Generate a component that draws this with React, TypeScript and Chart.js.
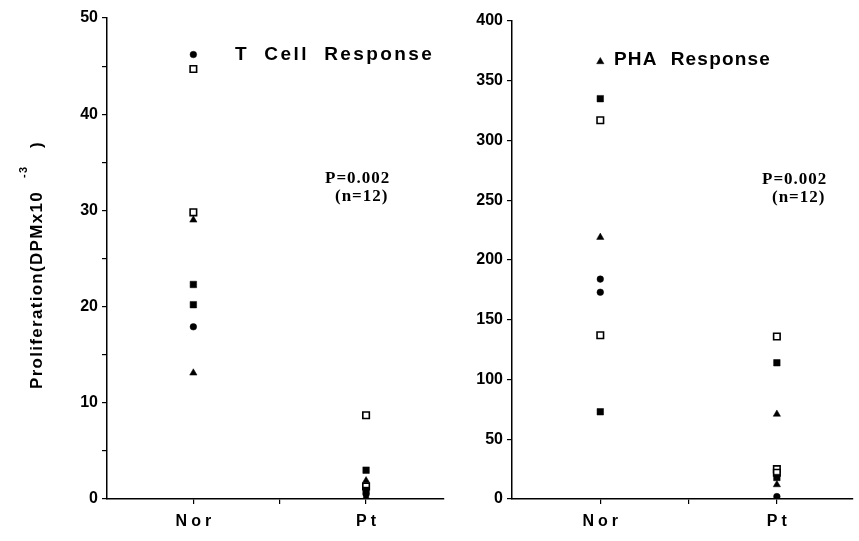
import React, { useEffect, useRef } from 'react';
import { Chart, registerables } from 'chart.js';
Chart.register(...registerables);

// ---- data ----
const groupLabels = ['Nor', 'Pt'];
const groupX = [1, 3];

const tCellNor = [46.2, 44.7, 29.8, 29.0, 22.3, 20.2, 17.9, 13.1];
const tCellNorMarks = ['circle', 'openSquare', 'openSquare', 'triangle', 'square', 'square', 'circle', 'triangle'];
const tCellPt = [8.7, 3.0, 1.9, 1.3, 0.9, 0.5, 0.2];
const tCellPtMarks = ['openSquare', 'square', 'triangle', 'openSquare', 'square', 'circle', 'triangle'];

const phaNor = [366, 335, 317, 219, 184, 173, 137, 73];
const phaNorMarks = ['triangle', 'square', 'openSquare', 'triangle', 'circle', 'circle', 'openSquare', 'square'];
const phaPt = [136, 114, 71, 25, 22, 18, 12, 2];
const phaPtMarks = ['openSquare', 'square', 'triangle', 'openSquare', 'openSquare', 'square', 'triangle', 'circle'];

const tCellTicks = [0, 10, 20, 30, 40, 50];
const phaTicks = [0, 50, 100, 150, 200, 250, 300, 350, 400];

const tCellTitle = 'T  Cell  Response';
const phaTitle = 'PHA  Response';
const pText = 'P=0.002';
const nText = '(n=12)';
const yTitle = 'Proliferation(DPMx10';
const ySup = '-3';

const SANS = '"Liberation Sans", Arial, sans-serif';
const SERIF = '"Liberation Serif", "Times New Roman", serif';

type Panel = {
  nor: number[]; norMarks: string[]; pt: number[]; ptMarks: string[];
  max: number; step: number; labelTicks: number[]; xMax: number;
  yWidth: number; top: number; width: number;
  draw: (ctx: CanvasRenderingContext2D, chart: any) => void;
};

function styleOf(m: string) {
  return m === 'circle' ? 'circle' : m === 'triangle' ? 'triangle' : 'rect';
}
function radiusOf(m: string) {
  return m === 'circle' ? 3.3 : m === 'triangle' ? 4.2 : 4.6;
}

function dataset(values: number[], marks: string[], x: number) {
  return {
    data: values.map((v) => ({ x, y: v })),
    showLine: false,
    pointStyle: marks.map(styleOf),
    pointRadius: marks.map(radiusOf),
    pointBackgroundColor: marks.map((m) => (m === 'openSquare' ? '#fff' : '#000')),
    pointBorderColor: '#000',
    pointBorderWidth: marks.map((m) => (m === 'openSquare' ? 1.6 : 0.5)),
  };
}

function makeConfig(p: Panel): any {
  return {
    type: 'scatter',
    data: {
      datasets: [dataset(p.nor, p.norMarks, groupX[0]), dataset(p.pt, p.ptMarks, groupX[1])],
    },
    options: {
      animation: false,
      responsive: false,
      events: [],
      layout: { padding: { top: p.top, right: 2, left: 0, bottom: 0 } },
      plugins: { legend: { display: false }, tooltip: { enabled: false } },
      scales: {
        x: {
          type: 'linear', min: 0, max: p.xMax,
          afterFit: (s: any) => { s.height = 42; },
          afterBuildTicks: (s: any) => { s.ticks = [1, 2, 3].map((v) => ({ value: v })); },
          ticks: { display: false },
          grid: { drawOnChartArea: false, tickLength: 5, color: '#000', lineWidth: 1.2 },
          border: { color: '#000', width: 1.5 },
        },
        y: {
          type: 'linear', min: 0, max: p.max,
          afterFit: (s: any) => { s.width = p.yWidth; },
          ticks: {
            stepSize: p.step,
            color: '#000',
            padding: 4,
            font: { family: SANS, size: 16, weight: 'bold' },
            callback: (v: number) => (p.labelTicks.includes(v) ? String(v) : ''),
          },
          grid: { drawOnChartArea: false, tickLength: 5, color: '#000', lineWidth: 1.2 },
          border: { color: '#000', width: 1.5 },
        },
      },
    },
    plugins: [
      {
        id: 'extras',
        afterDraw(chart: any) {
          const ctx = chart.ctx as CanvasRenderingContext2D;
          const xs = chart.scales.x;
          ctx.save();
          ctx.fillStyle = '#000';
          ctx.font = `bold 16px ${SANS}`;
          (ctx as any).letterSpacing = '4px';
          ctx.textAlign = 'center';
          ctx.textBaseline = 'middle';
          groupLabels.forEach((lab, i) => {
            ctx.fillText(lab, xs.getPixelForValue(groupX[i]) + 2, 522);
          });
          ctx.restore();
          ctx.save();
          p.draw(ctx, chart);
          ctx.restore();
        },
      },
    ],
  };
}

function drawP(ctx: CanvasRenderingContext2D, x: number, y: number) {
  ctx.fillStyle = '#000';
  ctx.font = `bold 17px ${SERIF}`;
  (ctx as any).letterSpacing = '1px';
  ctx.textAlign = 'left';
  ctx.textBaseline = 'middle';
  ctx.fillText(pText, x, y);
  ctx.fillText(nText, x + 10, y + 18);
  (ctx as any).letterSpacing = '0px';
}

function drawTitle(ctx: CanvasRenderingContext2D, text: string, x: number, y: number, spacing: string) {
  ctx.fillStyle = '#000';
  ctx.font = `bold 19px ${SANS}`;
  (ctx as any).letterSpacing = spacing;
  ctx.textBaseline = 'middle';
  ctx.textAlign = 'left';
  ctx.fillText(text, x, y);
  (ctx as any).letterSpacing = '0px';
}

const leftPanel: Panel = {
  nor: tCellNor, norMarks: tCellNorMarks, pt: tCellPt, ptMarks: tCellPtMarks,
  max: 50, step: 5, labelTicks: tCellTicks, xMax: 3.9, yWidth: 107, top: 18, width: 450,
  draw: (ctx) => {
    drawTitle(ctx, tCellTitle, 235, 55, '2.4px');
    drawP(ctx, 325, 179);
    // y-axis title
    ctx.save();
    ctx.translate(37, 0);
    ctx.rotate(-Math.PI / 2);
    ctx.fillStyle = '#000';
    ctx.font = `bold 17px ${SANS}`;
    (ctx as any).letterSpacing = '1.3px';
    ctx.textAlign = 'left';
    ctx.textBaseline = 'middle';
    ctx.fillText(yTitle, -389, 0);
    ctx.font = `bold 11px ${SANS}`;
    ctx.fillText(ySup, -178, -13);
    ctx.font = `bold 17px ${SANS}`;
    ctx.fillText(')', -148, 0);
    ctx.restore();
  },
};

const rightPanel: Panel = {
  nor: phaNor, norMarks: phaNorMarks, pt: phaPt, ptMarks: phaPtMarks,
  max: 400, step: 50, labelTicks: phaTicks, xMax: 3.86, yWidth: 62, top: 21, width: 409,
  draw: (ctx) => {
    drawTitle(ctx, phaTitle, 614 - 450, 60, '1.2px');
    drawP(ctx, 762 - 450, 180);
  },
};

function ChartCanvas({ panel, left }: { panel: Panel; left: number }) {
  const ref = useRef<HTMLCanvasElement>(null);
  useEffect(() => {
    const chart = new Chart(ref.current as HTMLCanvasElement, makeConfig(panel));
    return () => chart.destroy();
  }, [panel]);
  return (
    <canvas
      ref={ref}
      width={panel.width}
      height={541}
      style={{ position: 'absolute', left, top: 0, width: panel.width, height: 541 }}
    />
  );
}

export default function App() {
  return (
    <div style={{ position: 'fixed', left: 0, top: 0, width: 859, height: 541, background: '#fff' }}>
      <ChartCanvas panel={leftPanel} left={0} />
      <ChartCanvas panel={rightPanel} left={450} />
    </div>
  );
}
